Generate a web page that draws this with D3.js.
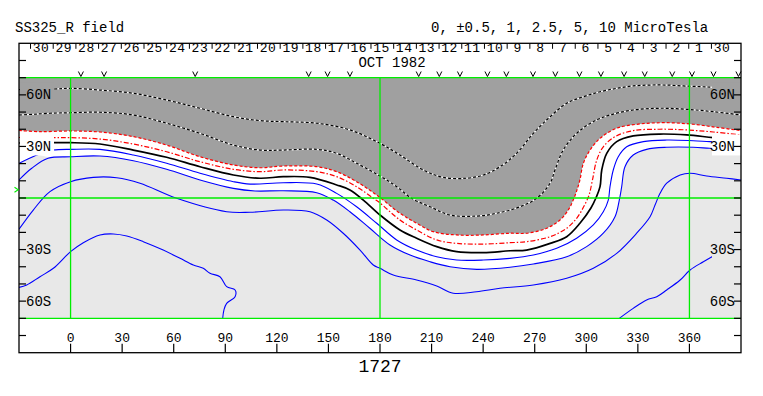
<!DOCTYPE html>
<html><head><meta charset="utf-8">
<script src="https://cdn.jsdelivr.net/npm/d3@7"></script>
<style>
body{margin:0;background:#fff}
svg{display:block}
text{font-family:"Liberation Mono","Courier New",monospace;fill:#000}
</style>
</head><body>
<svg id="c" width="763" height="396"></svg>
<script>
// ---------------- data ----------------
const titleText = "SS325_R field";
const legendText = "0, \u00b10.5, 1, 2.5, 5, 10 MicroTesla";
const rotationLabel = "1727";
const monthLabel = "OCT 1982";
const lonTicks = [0,30,60,90,120,150,180,210,240,270,300,330,360];
const latTicks = [-80,-70,-60,-50,-40,-30,-20,-10,0,10,20,30,40,50,60,70,80];
const latLabels = [[60,"60N"],[30,"30N"],[-30,"30S"],[-60,"60S"]];
const guideLons = [0,180,360];
const guideLats = [70,0,-70];
const dayStart = Date.UTC(1982,8,30);   // Sep 30 (right end)
const dayEnd = Date.UTC(1982,9,30);     // Oct 30 (left end)
const dayLonRange = [372.8,-23.3];
const obsLons = [6,19.5,72.5,138.5,149.5,162.5,202.5,214.5,226.5,242.5,253.5,269,282,296,308.5,322,334,350,361.5,374,388.5];
const b0Lat = 4.8;

// contour lines [lon, lat]
const contourNeg5 = [[-30,63.1],[-10,63.4],[0,63.8],[17.1,62.8],[36.5,60.9],[55.9,57.0],[75.3,52.2],[94.7,47.3],[110.2,45.0],[123.7,44.4],[143.2,43.5],[162.5,39.6],[180,31.8],[191.6,25.0],[205.2,16.3],[216.8,12.0],[230.4,11.5],[240.1,13.4],[249.8,18.2],[259.5,26.0],[269.2,37.6],[279.0,47.3],[288.6,55.1],[298.3,58.9],[308.0,61.8],[317.7,63.8],[327.3,65.2],[337.0,65.7],[346.8,65.7],[356.4,65.2],[366.1,64.8],[373.9,64.4],[390,64.0]];
const contourNeg25 = [[-30,48.3],[-21.7,48.7],[-12,49.3],[0,49.6],[17.1,49.9],[36.5,48.3],[55.9,43.5],[75.3,37.6],[94.7,30.8],[110.2,27.9],[123.7,27.9],[143.2,28.3],[154.8,26.0],[166.4,20.2],[180,12.8],[189.7,6.6],[198.4,-0.2],[209.1,-5.1],[220.7,-9.9],[236.2,-10.5],[247.9,-8.9],[261.4,-5.1],[271.1,-0.2],[278.9,8.6],[281.8,16.3],[286.6,27.9],[294.4,37.6],[304.1,44.4],[313.8,48.3],[327.3,51.2],[342.8,52.2],[358.4,51.6],[373.9,50.2],[390,48.3]];
const contourNeg1 = [[-30,39.3],[-17.8,38.6],[0,39.0],[17.1,38.4],[36.5,35.7],[55.9,30.8],[75.3,24.0],[94.7,19.2],[110.2,17.6],[123.7,18.6],[143.2,18.2],[154.8,15.3],[166.4,9.5],[178.8,1.2],[191.6,-8.9],[201.3,-14.7],[211.0,-19.6],[224.6,-21.5],[240.1,-21.5],[255.6,-20.5],[265.3,-20.5],[277.0,-17.6],[284.7,-12.8],[289.5,-7.0],[292.4,-1.2],[294.6,4.7],[296.3,10.5],[298.3,20.2],[302.2,27.9],[308.0,34.7],[317.7,40.6],[331.3,43.1],[346.8,43.8],[362.2,42.9],[375.9,41.1],[390,39.2]];
const contourNeg05 = [[-30,35.2],[-9.1,35.1],[0,35.1],[17.1,34.3],[36.5,31.4],[55.9,26.9],[75.3,21.1],[94.7,16.7],[110.2,15.3],[123.7,16.3],[143.2,15.3],[154.8,12.4],[166.4,6.6],[176.1,-0.2],[180,-2.9],[191.6,-12.8],[201.3,-18.6],[213.0,-24.4],[224.6,-26.4],[240.1,-26.8],[255.6,-26.0],[265.3,-25.4],[279.0,-22.5],[288.6,-17.6],[294.4,-11.8],[298.7,-4.7],[301.6,1.7],[303.6,10.5],[306.1,22.1],[309.9,29.8],[316.7,35.7],[327.3,39.2],[342.8,40.0],[358.4,39.6],[373.9,38.4],[390,36.7]];
const contourZero = [[-30,32.0],[-10,32.2],[0,32.2],[17.1,31.4],[36.5,27.9],[55.9,23.7],[75.3,18.2],[94.7,13.4],[110.2,11.5],[123.7,12.4],[139.2,12.0],[154.8,7.6],[162.5,4.7],[170.3,-1.2],[180,-9.9],[191.6,-18.6],[201.3,-23.4],[213.0,-28.3],[224.6,-31.2],[240.1,-31.8],[255.6,-30.7],[265.3,-30.3],[279.0,-26.4],[288.6,-22.5],[296.3,-14.7],[302.7,-5.8],[305.6,0],[308.0,6.6],[309.0,16.3],[311.9,26.0],[317.7,32.8],[327.3,36.1],[342.8,37.2],[358.4,36.7],[373.9,35.1],[390,33.7]];
const contourPos05 = [[-30,20.2],[-24.8,22.7],[-19.7,25.0],[-14.9,26.8],[-10,27.9],[0,28.3],[17.1,28.3],[36.5,25.0],[55.9,20.2],[75.3,14.4],[94.7,9.5],[104.4,8.1],[123.7,8.9],[143.2,8.1],[154.8,2.7],[166.4,-5.1],[178.1,-14.7],[189.7,-24.4],[201.3,-30.3],[213.0,-34.2],[224.6,-36.1],[240.1,-36.1],[255.6,-35.1],[269.2,-33.2],[282.8,-29.3],[294.4,-23.4],[304.1,-15.7],[309.9,-8.0],[312.8,-1.2],[313.8,6.6],[315.7,16.3],[318.6,24.0],[323.5,29.8],[333.2,32.8],[346.8,33.7],[362.2,33.3],[371.8,32.8],[390,32.0]];
const contourPos1 = [[-30,10.5],[-22.6,17.3],[-13.1,23.1],[0,24.0],[17.1,24.4],[36.5,21.7],[55.9,16.7],[75.3,10.5],[94.7,5.6],[107.3,4.1],[123.7,4.2],[143.2,3.1],[152.8,-1.2],[162.5,-8.0],[174.1,-17.6],[185.8,-27.3],[197.5,-33.2],[209.1,-37.1],[220.7,-40.0],[236.3,-41.5],[255.6,-40.3],[269.2,-38.4],[288.6,-34.2],[300.2,-28.3],[309.9,-20.5],[316.7,-10.9],[319.2,-1.2],[320.6,6.6],[322.5,18.2],[327.3,25.0],[335.1,28.3],[346.8,29.5],[362.2,29.5],[371.8,28.9],[390,27.9]];
const contourPos25 = [[-30,-18.2],[-21.7,-7.0],[-12.0,3.7],[0,9.5],[13.2,12.0],[26.8,11.8],[40.4,8.6],[61.7,-0.2],[90.8,-8.0],[104.4,-8.3],[123.7,-7.0],[139.3,-8.0],[149.0,-12.8],[158.6,-20.5],[168.4,-30.3],[176.1,-39.0],[180,-40.9],[187.7,-44.8],[201.3,-47.7],[213.0,-51.2],[222.6,-55.4],[236.2,-54.5],[249.8,-52.5],[269.2,-50.6],[288.6,-46.7],[304.1,-40.9],[317.7,-32.2],[329.3,-20.5],[337.1,-10.9],[340.0,-4.1],[342.9,2.7],[346.8,8.6],[354.6,13.4],[360.4,14.4],[370.0,12.8],[381.7,11.5],[390,10.5]];
const contourPos5West = [[-30,-52.0],[-25.5,-50.6],[-17.8,-45.8],[-10.0,-40.9],[0,-31.2],[7.4,-26.0],[17.1,-21.5],[24.9,-20.9],[32.7,-22.1],[42.3,-25.4],[53.9,-30.3],[63.7,-35.1],[71.4,-39.0],[77.2,-40.9],[81.1,-43.8],[86.9,-45.8],[90.8,-51.6],[95.7,-53.5],[95.7,-57.4],[90.8,-61.3],[89.2,-65.2],[88.5,-70]];
const contourPos5East = [[319.2,-70],[327.3,-64.2],[335.1,-59.3],[341.0,-57.4],[346.8,-53.5],[354.6,-47.7],[360.4,-41.9],[368.1,-37.1],[373.9,-33.7],[382.5,-29.1]];

// shading boundaries
const darkEdge = contourNeg1;
const lightEdge = [[-30,20.2],[-24.8,22.7],[-19.7,25.0],[-13.1,23.9],[0,24.0],[17.1,24.4],[36.5,21.7],[55.9,16.7],[75.3,10.5],[94.7,5.6],[107.3,4.1],[123.7,4.2],[143.2,3.1],[152.8,-1.2],[162.5,-8.0],[174.1,-17.6],[185.8,-27.3],[197.5,-33.2],[209.1,-37.1],[220.7,-40.0],[236.3,-41.5],[255.6,-40.3],[269.2,-38.4],[288.6,-34.2],[300.2,-28.3],[309.9,-20.5],[316.7,-10.9],[319.2,-1.2],[320.6,6.6],[322.5,18.2],[327.3,25.0],[335.1,28.3],[346.8,29.5],[362.2,29.5],[371.8,28.9],[390,26.8]];

// ---------------- drawing ----------------
const DARK = "#a0a0a0", LIGHT = "#e8e8e8", GREEN = "#00ee00", BLUE = "#0000ff", RED = "#ff0000";
const svg = d3.select("#c");
const x = d3.scaleLinear().domain([-30,390]).range([19,741]);
const y = d3.scaleLinear().domain([90,-90]).range([43.3,352.7]);
const line = d3.line().x(d=>x(d[0])).y(d=>y(d[1])).curve(d3.curveCatmullRom.alpha(0.5));

svg.append("defs").append("clipPath").attr("id","dataClip")
  .append("rect").attr("x",x(-30)).attr("y",y(70)).attr("width",x(390)-x(-30)).attr("height",y(-70)-y(70));

const data = svg.append("g").attr("clip-path","url(#dataClip)");
data.append("rect").attr("x",x(-30)).attr("y",y(70)).attr("width",x(390)-x(-30)).attr("height",y(-70)-y(70)).attr("fill","#fff");
data.append("path").attr("fill",DARK)
  .attr("d", line(darkEdge) + `L${x(390)},${y(70)}L${x(-30)},${y(70)}Z`);
data.append("path").attr("fill",LIGHT)
  .attr("d", line(lightEdge) + `L${x(390)},${y(-70)}L${x(-30)},${y(-70)}Z`);

function drawLine(pts, stroke, width, dash){
  const p = data.append("path").attr("d", line(pts)).attr("fill","none")
    .attr("stroke", stroke).attr("stroke-width", width);
  if (dash) p.attr("stroke-dasharray", dash);
}
[contourNeg5, contourNeg25].forEach(c=>{
  drawLine(c, "#fff", 1.2, null);
  drawLine(c, "#000", 1.2, "3,2");
});
drawLine(contourNeg1, RED, 1.2, "3,2");
drawLine(contourNeg05, RED, 1.2, "5,2,1.5,2");
drawLine(contourZero, "#000", 1.7, null);
[contourPos05, contourPos1, contourPos25, contourPos5West, contourPos5East].forEach(c=>drawLine(c, BLUE, 1.1, null));

// label boxes (hide lines under labels)
latLabels.forEach(([lat])=>{
  const fill = lat >= 45 ? DARK : (lat > 0 ? "#fff" : LIGHT);
  data.append("rect").attr("x",20).attr("y",y(lat)-12).attr("width",34).attr("height",21).attr("fill",fill);
  data.append("rect").attr("x",712).attr("y",y(lat)-12).attr("width",29).attr("height",21).attr("fill",fill);
});

// green guide lines
guideLats.forEach(l=>svg.append("line").attr("x1",x(-30)).attr("x2",x(390)).attr("y1",y(l)).attr("y2",y(l))
  .attr("stroke",GREEN).attr("stroke-width",1.3));
guideLons.forEach(l=>svg.append("line").attr("x1",x(l)).attr("x2",x(l)).attr("y1",y(70)).attr("y2",y(-70))
  .attr("stroke",GREEN).attr("stroke-width",1.3));

// frame
svg.append("rect").attr("x",x(-30)).attr("y",y(90)).attr("width",x(390)-x(-30)).attr("height",y(-90)-y(90))
  .attr("fill","none").attr("stroke","#000").attr("stroke-width",1.3);

// latitude ticks both sides
latTicks.forEach(l=>{
  svg.append("line").attr("x1",x(-30)).attr("x2",x(-30)+7).attr("y1",y(l)).attr("y2",y(l)).attr("stroke","#000").attr("stroke-width",1.2);
  svg.append("line").attr("x1",x(390)-7).attr("x2",x(390)).attr("y1",y(l)).attr("y2",y(l)).attr("stroke","#000").attr("stroke-width",1.2);
});
latLabels.forEach(([lat,t])=>{
  svg.append("text").attr("x",26).attr("y",y(lat)+4.5).attr("font-size",14).text(t);
  svg.append("text").attr("x",735).attr("y",y(lat)+4.5).attr("font-size",14).attr("text-anchor","end").text(t);
});

// longitude axis (bottom)
lonTicks.forEach(l=>{
  svg.append("line").attr("x1",x(l)).attr("x2",x(l)).attr("y1",y(-90)-9).attr("y2",y(-90)).attr("stroke","#000").attr("stroke-width",1.2);
  svg.append("text").attr("x",x(l)).attr("y",342).attr("font-size",13).attr("text-anchor","middle").text(l);
});

// day axis (top)
const dayScale = d3.scaleUtc().domain([dayStart, dayEnd]).range(dayLonRange);
d3.utcDay.range(dayStart, dayEnd + 1).forEach(d=>{
  const xx = x(dayScale(d));
  svg.append("line").attr("x1",xx).attr("x2",xx).attr("y1",y(90)).attr("y2",y(90)+5.5).attr("stroke","#000").attr("stroke-width",1);
  svg.append("text").attr("x",xx+10.5).attr("y",52).attr("font-size",13).attr("letter-spacing","0.5")
    .attr("text-anchor","middle").text(d.getUTCDate());
});

// observation markers
obsLons.forEach(l=>{
  const xx = x(l);
  svg.append("path").attr("d",`M${xx-2.5},71.5L${xx},76.5L${xx+2.5},71.5`).attr("fill","none").attr("stroke","#000").attr("stroke-width",1);
});

// B0 marker
svg.append("path").attr("d",`M${x(-30)-4.5},${y(b0Lat)-2.5}L${x(-30)-0.8},${y(b0Lat)}L${x(-30)-4.5},${y(b0Lat)+2.5}`)
  .attr("fill","none").attr("stroke",GREEN).attr("stroke-width",1.1);

// titles
svg.append("text").attr("x",15).attr("y",32).attr("font-size",14).text(titleText);
svg.append("text").attr("x",431).attr("y",32).attr("font-size",14).text(legendText);
svg.append("text").attr("x",392).attr("y",67).attr("font-size",14).attr("text-anchor","middle").text(monthLabel);
svg.append("text").attr("x",x(180)).attr("y",372).attr("font-size",18).attr("text-anchor","middle").text(rotationLabel);
</script>
</body></html>
